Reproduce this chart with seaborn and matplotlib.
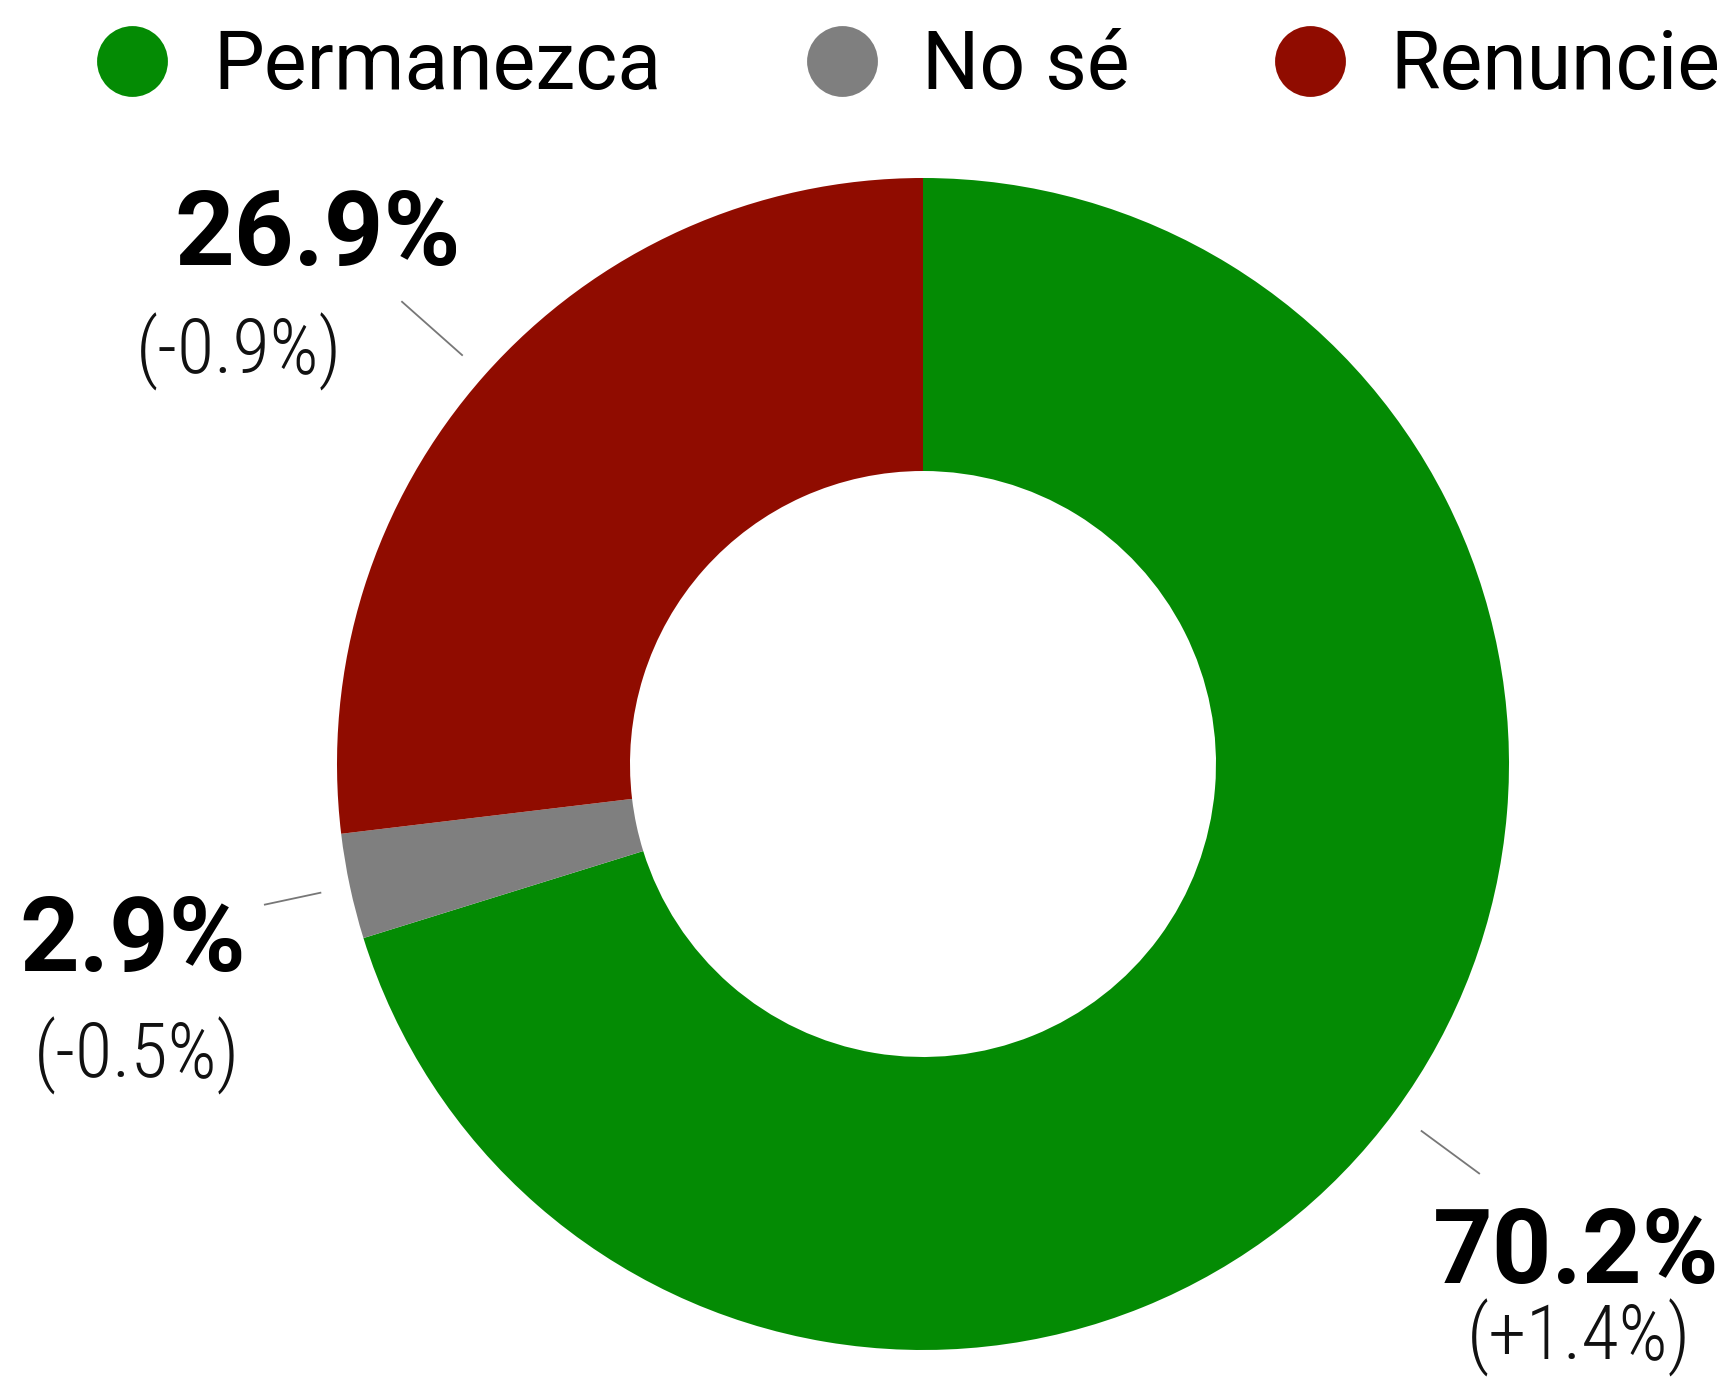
import numpy as np
import matplotlib
matplotlib.use("Agg")
import matplotlib.pyplot as plt
from matplotlib.lines import Line2D
from matplotlib import font_manager
import seaborn as sns

# ---- data ----
categories = ["Permanezca", "No sé", "Renuncie"]
values = [70.2, 2.9, 26.9]
changes = ["(+1.4%)", "(-0.5%)", "(-0.9%)"]
colors = ["#048b04", "#7f7f7f", "#900c00"]

sns.set_theme(style="white")
plt.rcParams["font.family"] = ["Roboto", "DejaVu Sans"]

installed = {f.name for f in font_manager.fontManager.ttflist}
if "Roboto Condensed" in installed:
    chg_font = dict(family=["Roboto Condensed", "DejaVu Sans"], fontweight="light", fontsize=55)
else:
    chg_font = dict(family=["Roboto", "DejaVu Sans"], fontweight="light", fontsize=54)

W, H = 1734, 1383
fig = plt.figure(figsize=(W / 100, H / 100), dpi=100)
ax = fig.add_axes([0, 0, 1, 1])

cx, cy = 923, H - 764
R = 586
palette = sns.color_palette(colors)
wedges, _ = ax.pie(values, colors=palette, startangle=90, counterclock=False,
                   center=(cx, cy), radius=R,
                   wedgeprops=dict(width=R * 0.5, linewidth=0))
ax.set_xlim(0, W)
ax.set_ylim(0, H)
ax.set_aspect("equal")
ax.axis("off")

# label layout (pixel positions, image coords -> flipped)
label_pos = {
    0: dict(pct=(1576, 1283), chg=(1579, 1338), r1=1.055, r2=1.18),
    1: dict(pct=(133, 971), chg=(137, 1056), r1=1.05, r2=1.15),
    2: dict(pct=(318, 265), chg=(239, 352), r1=1.05, r2=1.19),
}
for i, w in enumerate(wedges):
    ang = np.deg2rad((w.theta1 + w.theta2) / 2)
    r1, r2 = label_pos[i]["r1"] * R, label_pos[i]["r2"] * R
    ax.plot([cx + r1 * np.cos(ang), cx + r2 * np.cos(ang)],
            [cy + r1 * np.sin(ang), cy + r2 * np.sin(ang)],
            color="#777777", lw=1.3, solid_capstyle="butt")
    px, py = label_pos[i]["pct"]
    ax.text(px, H - py, f"{values[i]:.1f}%", ha="center", va="baseline",
            fontsize=75, fontweight="bold", color="black")
    qx, qy = label_pos[i]["chg"]
    ax.text(qx, H - qy, changes[i], ha="center", va="center",
            color="#111111", **chg_font)

handles = [Line2D([0], [0], marker="o", color="none", markerfacecolor=c,
                  markeredgecolor="none", markersize=51) for c in palette]
leg = fig.legend(handles, categories, loc="center left",
                 bbox_to_anchor=(97 / W, 1 - 67 / H),
                 ncol=3, frameon=False, fontsize=58, handlelength=0.88,
                 handletextpad=0.56, columnspacing=1.80, borderpad=0, borderaxespad=0)
for t in leg.get_texts():
    t.set_color("black")

fig.savefig("out.png", dpi=100, facecolor="white")
